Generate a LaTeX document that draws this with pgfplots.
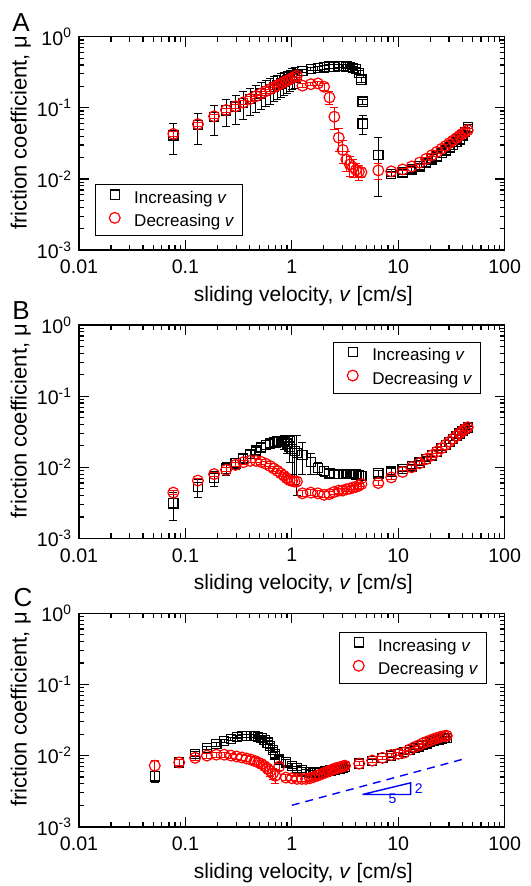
\documentclass[border=0pt]{standalone}
\usepackage{fontspec}
\setmainfont{Liberation Sans}
\usepackage{pgfplots}
\usepackage{pgfplotstable}
\pgfplotsset{compat=1.18}

% panel A
\pgfplotstableread{
v mu e
0.077 0.041 0.019
0.131 0.057 0.026
0.186 0.074 0.033
0.241 0.092 0.038
0.296 0.104 0.045
0.350 0.118 0.050
0.405 0.132 0.055
0.460 0.146 0.060
0.514 0.160 0.064
0.569 0.172 0.068
0.624 0.185 0.072
0.678 0.197 0.075
0.733 0.210 0.078
0.788 0.221 0.080
0.843 0.233 0.082
0.897 0.244 0.084
0.952 0.255 0.085
1.007 0.266 0.086
1.061 0.277 0.087
1.116 0.290 0.060
1.26 0.330 0.020
1.51 0.350 0.020
1.76 0.360 0.020
2.01 0.370 0.020
2.26 0.380 0.020
2.51 0.380 0.020
2.76 0.385 0.020
3.01 0.385 0.020
3.26 0.380 0.020
3.51 0.375 0.020
3.76 0.365 0.020
4.01 0.350 0.020
4.26 0.310 0.020
4.51 0.250 0.020
4.63 0.122 0.010
4.63 0.060 0.018
6.5 0.0217 0.016
8.6 0.0118 0.0010
11.0 0.0124 0.0010
13.4 0.0136 0.0012
15.9 0.0150 0.0015
18.3 0.0168 0.0018
20.7 0.0188 0.0020
23.1 0.0208 0.0025
25.6 0.0230 0.0030
28.0 0.0252 0.0030
30.4 0.0277 0.0035
32.8 0.0302 0.0040
35.3 0.0330 0.0045
37.7 0.0360 0.0050
40.1 0.0410 0.0050
42.5 0.0460 0.0060
45.0 0.0530 0.0060
}\Ainc
\pgfplotstableread{
v mu e
0.077 0.043 0.003
0.131 0.059 0.004
0.186 0.076 0.005
0.241 0.093 0.006
0.296 0.105 0.007
0.350 0.119 0.008
0.405 0.133 0.009
0.460 0.146 0.010
0.514 0.159 0.011
0.569 0.171 0.012
0.624 0.183 0.012
0.678 0.195 0.013
0.733 0.207 0.014
0.788 0.218 0.015
0.843 0.229 0.015
0.897 0.240 0.016
0.952 0.251 0.017
1.007 0.262 0.018
1.061 0.272 0.018
1.116 0.283 0.019
1.26 0.205 0.012
1.51 0.215 0.012
1.76 0.220 0.015
2.01 0.198 0.020
2.26 0.140 0.030
2.51 0.075 0.025
2.76 0.038 0.014
3.01 0.0256 0.009
3.26 0.0187 0.006
3.51 0.0160 0.005
3.76 0.0146 0.004
4.01 0.0134 0.003
4.26 0.0126 0.003
4.51 0.0124 0.002
6.5 0.0132 0.0035
8.6 0.0128 0.0006
11.0 0.0136 0.0006
13.4 0.0150 0.0007
15.9 0.0170 0.0008
18.3 0.0192 0.0009
20.7 0.0216 0.0010
23.1 0.0240 0.0011
25.6 0.0266 0.0012
28.0 0.0292 0.0013
30.4 0.0320 0.0014
32.8 0.0348 0.0015
35.3 0.0376 0.0016
37.7 0.0404 0.0017
40.1 0.0432 0.0018
42.5 0.0458 0.0019
45.0 0.0485 0.0020
}\Adec

% panel B
\pgfplotstableread{
v mu e
0.077 0.0031 0.0013
0.131 0.0053 0.0015
0.186 0.0070 0.0017
0.241 0.0096 0.0019
0.296 0.0113 0.0020
0.350 0.0133 0.0020
0.405 0.0154 0.0020
0.460 0.0171 0.0020
0.514 0.0190 0.0025
0.569 0.0205 0.0030
0.624 0.0216 0.0030
0.678 0.0226 0.0035
0.733 0.0232 0.0040
0.788 0.0235 0.0040
0.843 0.0228 0.0050
0.897 0.0215 0.0060
0.952 0.0195 0.0080
1.007 0.0180 0.0100
1.061 0.0168 0.0110
1.116 0.0160 0.0120
1.26 0.0150 0.0070
1.51 0.0118 0.0040
1.76 0.0098 0.0020
2.01 0.0088 0.0015
2.26 0.0082 0.0010
2.51 0.0080 0.0010
2.76 0.0080 0.0010
3.01 0.0080 0.0010
3.26 0.0081 0.0010
3.51 0.0081 0.0010
3.76 0.0080 0.0010
4.01 0.0079 0.0010
4.26 0.0078 0.0010
4.51 0.0076 0.0010
6.5 0.0082 0.0008
8.6 0.0087 0.0008
11.0 0.0094 0.0008
13.4 0.0103 0.0008
15.9 0.0116 0.0010
18.3 0.0131 0.0010
20.7 0.0147 0.0010
23.1 0.0165 0.0010
25.6 0.0185 0.0012
28.0 0.0205 0.0012
30.4 0.0227 0.0014
32.8 0.0250 0.0015
35.3 0.0274 0.0016
37.7 0.0298 0.0017
40.1 0.0322 0.0018
42.5 0.0345 0.0020
45.0 0.0360 0.0020
}\Binc
\pgfplotstableread{
v mu e
0.077 0.0044 0.0003
0.131 0.0065 0.0004
0.186 0.0080 0.0005
0.241 0.0092 0.0006
0.296 0.0108 0.0007
0.350 0.0118 0.0007
0.405 0.0123 0.0008
0.460 0.0123 0.0008
0.514 0.0119 0.0008
0.569 0.0112 0.0008
0.624 0.0104 0.0008
0.678 0.0096 0.0008
0.733 0.0089 0.0008
0.788 0.0082 0.0008
0.843 0.0076 0.0008
0.897 0.0070 0.0008
0.952 0.0066 0.0008
1.007 0.0064 0.0008
1.061 0.0063 0.0008
1.116 0.0063 0.0008
1.26 0.0043 0.0004
1.51 0.0044 0.0004
1.76 0.0043 0.0004
2.01 0.0041 0.0004
2.26 0.0042 0.0004
2.51 0.0045 0.0004
2.76 0.0047 0.0004
3.01 0.0047 0.0004
3.26 0.0049 0.0004
3.51 0.0050 0.0004
3.76 0.0052 0.0004
4.01 0.0053 0.0004
4.26 0.0055 0.0004
4.51 0.0058 0.0004
6.5 0.0060 0.0005
8.6 0.0072 0.0005
11.0 0.0086 0.0005
13.4 0.0100 0.0006
15.9 0.0114 0.0006
18.3 0.0130 0.0007
20.7 0.0147 0.0008
23.1 0.0166 0.0009
25.6 0.0186 0.0010
28.0 0.0207 0.0010
30.4 0.0229 0.0010
32.8 0.0252 0.0012
35.3 0.0276 0.0013
37.7 0.0300 0.0014
40.1 0.0323 0.0015
42.5 0.0345 0.0016
45.0 0.0365 0.0017
}\Bdec

% panel C
\pgfplotstableread{
v mu e
0.0515 0.0051 0.0009
0.0875 0.0080 0.0008
0.1235 0.0105 0.0008
0.1595 0.0128 0.0008
0.1955 0.0145 0.0009
0.2315 0.0160 0.0009
0.2675 0.0172 0.0010
0.3035 0.0182 0.0010
0.3395 0.0188 0.0010
0.3755 0.0190 0.0010
0.4115 0.0190 0.0010
0.4475 0.0188 0.0010
0.4835 0.0184 0.0010
0.5195 0.0178 0.0010
0.5555 0.0166 0.0010
0.5915 0.0152 0.0010
0.6275 0.0137 0.0010
0.6635 0.0120 0.0010
0.6995 0.0104 0.0010
0.76 0.0088 0.0008
0.88 0.0080 0.0008
1.00 0.0072 0.0006
1.12 0.0066 0.0005
1.24 0.0062 0.0005
1.36 0.0059 0.0004
1.48 0.0058 0.0004
1.60 0.0057 0.0004
1.72 0.0057 0.0004
1.84 0.0058 0.0004
1.96 0.0059 0.0004
2.08 0.0060 0.0004
2.20 0.0061 0.0004
2.32 0.0062 0.0004
2.44 0.0063 0.0004
2.56 0.0064 0.0004
2.68 0.0065 0.0004
2.80 0.0066 0.0004
2.92 0.0067 0.0004
3.04 0.0068 0.0004
3.16 0.0069 0.0004
4.3 0.0077 0.0005
5.7 0.0084 0.0005
7.1 0.0092 0.0005
8.6 0.0100 0.0006
10.0 0.0105 0.0006
11.4 0.0112 0.0006
12.9 0.0120 0.0007
14.3 0.0128 0.0007
15.7 0.0135 0.0008
17.2 0.0142 0.0008
18.6 0.0148 0.0008
20.0 0.0154 0.0009
21.4 0.0159 0.0009
22.9 0.0164 0.0009
24.3 0.0168 0.0010
25.7 0.0172 0.0010
27.2 0.0175 0.0010
28.6 0.0178 0.0010
}\Cinc
\pgfplotstableread{
v mu e
0.0515 0.0072 0.0012
0.0875 0.0080 0.0008
0.1235 0.0093 0.0008
0.1595 0.0100 0.0008
0.1955 0.0103 0.0008
0.2315 0.0103 0.0008
0.2675 0.0100 0.0008
0.3035 0.0097 0.0008
0.3395 0.0094 0.0009
0.3755 0.0091 0.0009
0.4115 0.0088 0.0010
0.4475 0.0084 0.0010
0.4835 0.0080 0.0010
0.5195 0.0076 0.0010
0.5555 0.0071 0.0010
0.5915 0.0066 0.0010
0.6275 0.0061 0.0010
0.6635 0.0056 0.0010
0.6995 0.0052 0.0012
0.76 0.0070 0.0008
0.88 0.0049 0.0005
1.00 0.0048 0.0004
1.12 0.0047 0.0004
1.24 0.0047 0.0004
1.36 0.0047 0.0004
1.48 0.0048 0.0004
1.60 0.0050 0.0004
1.72 0.0052 0.0004
1.84 0.0054 0.0004
1.96 0.0056 0.0004
2.08 0.0058 0.0004
2.20 0.0060 0.0004
2.32 0.0062 0.0004
2.44 0.0064 0.0004
2.56 0.0066 0.0004
2.68 0.0067 0.0004
2.80 0.0068 0.0004
2.92 0.0069 0.0004
3.04 0.0071 0.0004
3.16 0.0072 0.0004
4.3 0.0077 0.0005
5.7 0.0085 0.0005
7.1 0.0093 0.0005
8.6 0.0102 0.0006
10.0 0.0106 0.0006
11.4 0.0110 0.0006
12.9 0.0122 0.0007
14.3 0.0132 0.0007
15.7 0.0140 0.0008
17.2 0.0150 0.0008
18.6 0.0157 0.0008
20.0 0.0163 0.0009
21.4 0.0170 0.0009
22.9 0.0176 0.0009
24.3 0.0181 0.0010
25.7 0.0185 0.0010
27.2 0.0188 0.0010
28.6 0.0190 0.0010
}\Cdec

% shared look of every panel
\pgfplotsset{
  every axis/.append style={
    scale only axis, width=212.8pt, height=106.7pt,
    xmin=0.01, xmax=100, ymin=0.001, ymax=1,
    xtick={0.01,0.1,1,10,100}, xticklabels={0.01,0.1,1,10,100},
    ytick={0.001,0.01,0.1,1},
    yticklabels={10\textsuperscript{-3},10\textsuperscript{-2},10\textsuperscript{-1},10\textsuperscript{0}},
    tick align=inside,
    major tick length=5pt, minor tick length=2.5pt,
    axis line style={line width=0.8pt},
    tick style={black, line width=0.6pt},
    tick label style={font=\fontsize{9.8}{11}\selectfont},
    xticklabel style={yshift=-1.5pt},
    xlabel={sliding velocity, \textit{v} [cm/s]},
    ylabel={friction coefficient, μ},
    xlabel style={font=\fontsize{10.5}{12}\selectfont,
      at={(axis description cs:0.527,0)}, anchor=center, yshift=-23pt},
    ylabel style={font=\fontsize{11}{13}\selectfont,
      at={(axis description cs:-0.137,0.55)}, anchor=center},
    legend cell align=left,
    legend style={font=\fontsize{8.5}{9}\selectfont, draw=black, line width=0.5pt,
      row sep=0pt, inner xsep=2pt, inner ysep=1pt},
  },
  incplot/.style={only marks, black, mark=square, mark size=2.3pt,
    mark options={line width=0.6pt},
    error bars/y dir=both, error bars/y explicit,
    error bars/error bar style={line width=0.5pt},
    error bars/error mark options={rotate=90, mark size=2pt, line width=0.5pt},
    legend image code/.code={\path (0pt,0pt) (15pt,0pt);
      \draw[##1] plot coordinates {(7.5pt,2pt)};}},
  decplot/.style={only marks, red, mark=o, mark size=2.7pt,
    mark options={line width=0.6pt},
    error bars/y dir=both, error bars/y explicit,
    error bars/error bar style={line width=0.5pt},
    error bars/error mark options={rotate=90, mark size=2pt, line width=0.5pt},
    legend image code/.code={\path (0pt,0pt) (15pt,0pt);
      \draw[##1] plot coordinates {(7.5pt,2pt)};}},
}

\begin{document}
\begin{tikzpicture}
\useasboundingbox (-39.5pt,18.35pt) rectangle (225.5pt,-424.65pt);

\begin{loglogaxis}[name=A, anchor=north west, at={(0pt,0pt)},
    legend style={at={(0.037,0.066)}, anchor=south west}]
\addplot[incplot] table[x=v, y=mu, y error=e] {\Ainc};
\addplot[decplot] table[x=v, y=mu, y error=e] {\Adec};
\legend{Increasing \textit{v}, Decreasing \textit{v}}
\end{loglogaxis}

\begin{loglogaxis}[name=B, anchor=north west, at={(0pt,-144.15pt)},
    legend style={at={(0.944,0.92)}, anchor=north east}]
\addplot[incplot] table[x=v, y=mu, y error=e] {\Binc};
\addplot[decplot] table[x=v, y=mu, y error=e] {\Bdec};
\legend{Increasing \textit{v}, Decreasing \textit{v}}
\end{loglogaxis}

\begin{loglogaxis}[name=C, anchor=north west, at={(0pt,-288.3pt)},
    legend style={at={(0.958,0.911)}, anchor=north east}]
\addplot[incplot] table[x=v, y=mu, y error=e] {\Cinc};
\addplot[decplot] table[x=v, y=mu, y error=e] {\Cdec};
\legend{Increasing \textit{v}, Decreasing \textit{v}}
% slope guide
\addplot[blue, line width=0.7pt, dash pattern=on 4pt off 3pt, forget plot]
  coordinates {(1,0.0020) (43,0.0091)};
\addplot[blue, line width=0.7pt, forget plot]
  coordinates {(4.62,0.00284) (13.1,0.00284) (13.1,0.00414) (4.62,0.00284)};
\node[blue, font=\fontsize{7}{8}\selectfont] at (axis cs:15.6,0.00345) {2};
\node[blue, font=\fontsize{7}{8}\selectfont] at (axis cs:8.85,0.00245) {5};
\end{loglogaxis}

\node[font=\fontsize{13}{15}\selectfont] at ([xshift=-29pt,yshift=7pt]A.north west) {A};
\node[font=\fontsize{13}{15}\selectfont] at ([xshift=-29pt,yshift=7pt]B.north west) {B};
\node[font=\fontsize{13}{15}\selectfont] at ([xshift=-28pt,yshift=8pt]C.north west) {C};
\end{tikzpicture}
\end{document}
